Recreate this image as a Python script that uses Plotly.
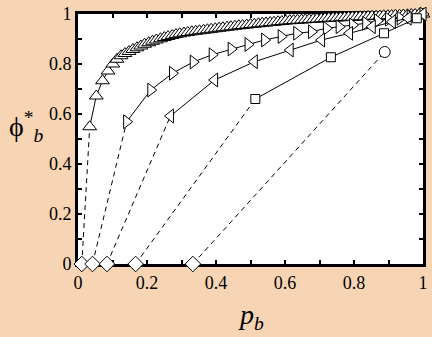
import plotly.graph_objects as go

# ---- data ----
diamond_x = [0.011, 0.042, 0.084, 0.167, 0.333]
diamond_y = [0, 0, 0, 0, 0]

up_x = [0.034, 0.053, 0.071, 0.087, 0.101, 0.113,
        0.125, 0.136, 0.148, 0.159, 0.171, 0.182, 0.193, 0.205, 0.216, 0.227,
        0.239, 0.250, 0.261, 0.273, 0.284, 0.295, 0.307, 0.318, 0.330, 0.341,
        0.352, 0.364, 0.375, 0.386, 0.398, 0.409, 0.420, 0.432, 0.443, 0.455,
        0.466, 0.477, 0.489, 0.500, 0.511, 0.523, 0.534, 0.545, 0.557, 0.568,
        0.580, 0.591, 0.602, 0.614, 0.625, 0.636, 0.648, 0.659, 0.670, 0.682,
        0.693, 0.705, 0.716, 0.727, 0.739, 0.750, 0.761, 0.773, 0.784, 0.795,
        0.807, 0.818, 0.830, 0.841, 0.852, 0.864, 0.875, 0.886, 0.898, 0.909,
        0.920, 0.932, 0.943, 0.955, 0.966, 0.977, 0.989, 1.000]
up_y = [0.549, 0.672, 0.733, 0.772, 0.800, 0.819,
        0.833, 0.842, 0.850, 0.858, 0.865, 0.872, 0.879, 0.885, 0.891, 0.896,
        0.901, 0.906, 0.910, 0.914, 0.918, 0.921, 0.924, 0.926, 0.929, 0.931,
        0.933, 0.935, 0.937, 0.939, 0.941, 0.943, 0.945, 0.947, 0.949, 0.951,
        0.953, 0.954, 0.956, 0.958, 0.959, 0.961, 0.963, 0.964, 0.966, 0.967,
        0.969, 0.970, 0.972, 0.973, 0.974, 0.975, 0.976, 0.977, 0.978, 0.979,
        0.980, 0.981, 0.982, 0.983, 0.984, 0.984, 0.985, 0.986, 0.987, 0.987,
        0.988, 0.989, 0.989, 0.990, 0.991, 0.991, 0.992, 0.993, 0.993, 0.994,
        0.995, 0.995, 0.996, 0.997, 0.998, 0.998, 0.999, 1.000]

right_x = [0.141, 0.211, 0.274, 0.334, 0.389, 0.444, 0.493, 0.541, 0.589, 0.634,
           0.677, 0.720, 0.757, 0.796, 0.834, 0.868, 0.900, 0.934, 0.963, 1.000]
right_y = [0.569, 0.696, 0.763, 0.808, 0.837, 0.860, 0.878, 0.896, 0.910, 0.923,
           0.929, 0.943, 0.949, 0.956, 0.963, 0.973, 0.979, 0.983, 0.989, 1.000]

left_x = [0.268, 0.396, 0.511, 0.615, 0.706, 0.787, 0.853, 0.911, 0.957, 1.000]
left_y = [0.592, 0.736, 0.809, 0.856, 0.896, 0.923, 0.949, 0.969, 0.983, 1.000]

square_x = [0.514, 0.733, 0.887, 0.982]
square_y = [0.660, 0.827, 0.923, 0.983]

circle_x = [0.889]
circle_y = [0.848]

tick_vals = [0, 0.2, 0.4, 0.6, 0.8, 1.0]
tick_text = ["0", "0.2", "0.4", "0.6", "0.8", "1"]

# ---- figure ----
series = [
    (up_x, up_y, "triangle-up", 12),
    (right_x, right_y, "triangle-right", 12),
    (left_x, left_y, "triangle-left", 12),
    (square_x, square_y, "square", 9),
    (circle_x, circle_y, "circle", 11),
]

fig = go.Figure()

# dashed connectors from diamonds to first point of each series
for (sx, sy, _, _), dx, dy in zip(series, diamond_x, diamond_y):
    fig.add_trace(go.Scatter(
        x=[dx, sx[0]], y=[dy, sy[0]], mode="lines",
        line=dict(color="black", width=1, dash="5px,4px"),
        showlegend=False, hoverinfo="skip", cliponaxis=False))

for sx, sy, sym, sz in series:
    fig.add_trace(go.Scatter(
        x=sx, y=sy, mode="lines+markers",
        line=dict(color="black", width=1),
        marker=dict(symbol=sym, size=sz, color="white",
                    line=dict(color="black", width=1)),
        showlegend=False, cliponaxis=False))

fig.add_trace(go.Scatter(
    x=diamond_x, y=diamond_y, mode="markers",
    marker=dict(symbol="diamond", size=12, color="white",
                line=dict(color="black", width=1)),
    showlegend=False, cliponaxis=False))

axis_common = dict(
    range=[0, 1], tickmode="array", tickvals=tick_vals, ticktext=tick_text,
    ticks="inside", ticklen=4, tickwidth=2, tickcolor="black",
    minor=dict(dtick=0.1, ticks="inside", ticklen=4, tickwidth=2,
               tickcolor="black", showgrid=False),
    showline=True, linecolor="black", linewidth=3, mirror="allticks",
    showgrid=False, zeroline=False, layer="below traces",
    tickfont=dict(family="Liberation Serif", size=18, color="black"),
)

fig.update_layout(
    width=432, height=337,
    margin=dict(l=78, r=4, t=14, b=73),
    paper_bgcolor="#F7D4B4",
    plot_bgcolor="white",
    xaxis=dict(**axis_common),
    yaxis=dict(**axis_common),
    annotations=[
        dict(text="<i>p</i><sub><i>b</i></sub>", x=0.5, y=-0.21,
             xref="paper", yref="paper", showarrow=False,
             xanchor="center", yanchor="middle",
             font=dict(family="Liberation Serif", size=28, color="black")),
        dict(text="\u03d5<sup>*</sup><sub><i>b</i></sub>", x=-0.15, y=0.55,
             xref="paper", yref="paper", showarrow=False,
             xanchor="center", yanchor="middle",
             font=dict(family="Liberation Serif", size=28, color="black")),
    ],
)

fig.write_html("out.html")
